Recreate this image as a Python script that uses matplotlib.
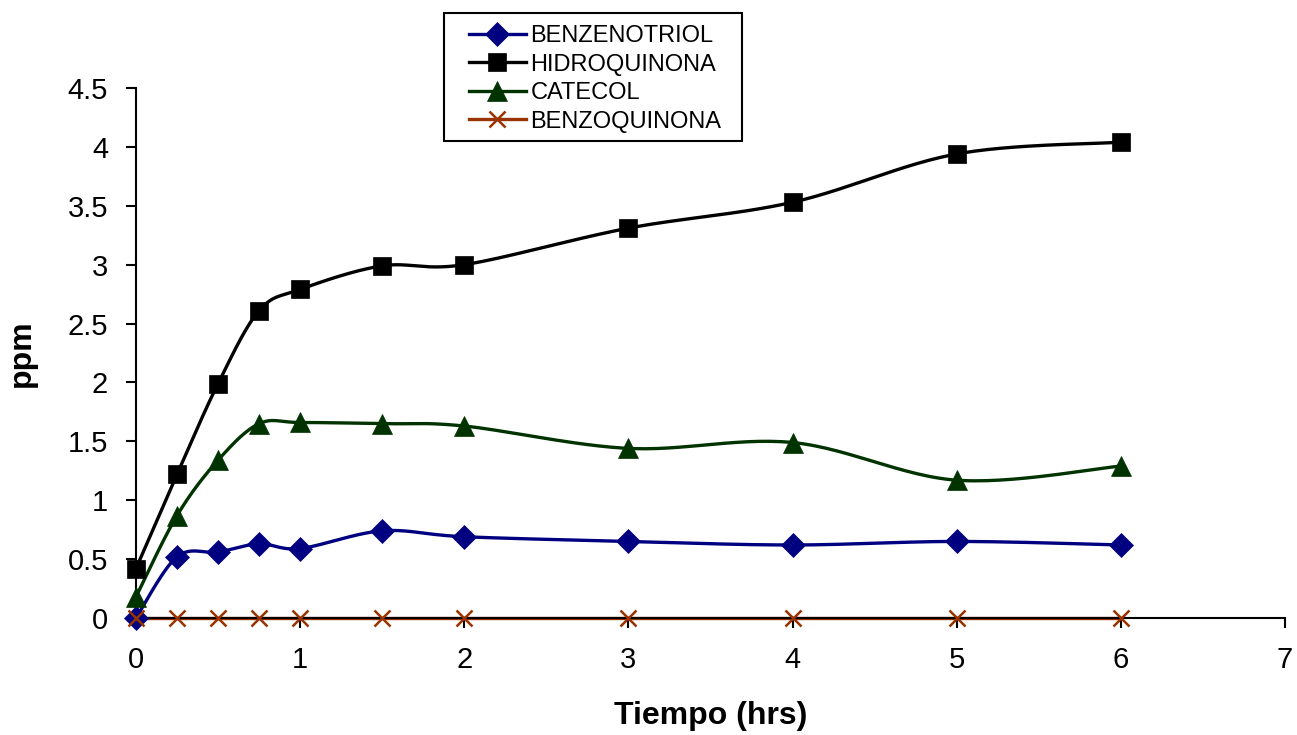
import numpy as np
import matplotlib
matplotlib.use("Agg")
import matplotlib.pyplot as plt
from matplotlib.patches import Rectangle

plt.rcParams['font.family'] = ['Liberation Sans', 'DejaVu Sans']

# sampling times (hrs)
tiempo = [0, 0.25, 0.5, 0.75, 1, 1.5, 2, 3, 4, 5, 6]

benzenotriol = [0.0, 0.52, 0.56, 0.63, 0.59, 0.74, 0.69, 0.65, 0.62, 0.65, 0.62]
hidroquinona = [0.42, 1.22, 1.99, 2.61, 2.79, 2.99, 3.00, 3.31, 3.53, 3.94, 4.04]
catecol = [0.18, 0.87, 1.34, 1.65, 1.66, 1.65, 1.63, 1.44, 1.49, 1.17, 1.29]
benzoquinona = [0, 0, 0, 0, 0, 0, 0, 0, 0, 0, 0]

series = [
    ("BENZENOTRIOL", benzenotriol, "#000080", "D", 12),
    ("HIDROQUINONA", hidroquinona, "#000000", "s", 13),
    ("CATECOL", catecol, "#003300", "^", 15),
    ("BENZOQUINONA", benzoquinona, "#993300", "x", 11),
]


def smooth(x, y, n=30):
    """Catmull-Rom style bezier smoothing, like spreadsheet smoothed lines"""
    x = np.asarray(x, float)
    y = np.asarray(y, float)
    px = np.concatenate([[x[0]], x, [x[-1]]])
    py = np.concatenate([[y[0]], y, [y[-1]]])
    xs, ys = [], []
    t = np.linspace(0, 1, n)
    for i in range(1, len(px) - 2):
        p0 = np.array([px[i], py[i]])
        p3 = np.array([px[i + 1], py[i + 1]])
        p1 = p0 + (p3 - np.array([px[i - 1], py[i - 1]])) / 6
        p2 = p3 - (np.array([px[i + 2], py[i + 2]]) - p0) / 6
        b = ((1 - t) ** 3)[:, None] * p0 + (3 * (1 - t) ** 2 * t)[:, None] * p1 \
            + (3 * (1 - t) * t ** 2)[:, None] * p2 + (t ** 3)[:, None] * p3
        xs.append(b[:, 0])
        ys.append(b[:, 1])
    return np.concatenate(xs), np.concatenate(ys)


W, H = 1297, 735
fig = plt.figure(figsize=(W / 100, H / 100), dpi=100)
ax = fig.add_axes([136 / W, 1 - 618 / H, (1285 - 136) / W, (618 - 88) / H])

handles = []
for name, vals, color, mk, ms in series:
    sx, sy = smooth(tiempo, vals)
    ax.plot(sx, sy, color=color, lw=2.4, solid_capstyle='round', clip_on=False)
    mew = 1.8 if mk == "x" else 0.5
    ax.plot(tiempo, vals, linestyle='none', marker=mk, ms=ms, color=color,
            mec=color, mew=mew, clip_on=False, zorder=3)
    h, = ax.plot([], [], color=color, lw=2.4, marker=mk, ms=ms,
                 mec=color, mew=mew)
    h.set_label(name)
    handles.append(h)

ax.set_xlim(0, 7)
ax.set_ylim(0, 4.5)
ax.set_xticks(range(0, 8))
ax.set_yticks(np.arange(0, 4.51, 0.5))
ax.set_yticklabels(["0", "0.5", "1", "1.5", "2", "2.5", "3", "3.5", "4", "4.5"])
ax.spines['top'].set_visible(False)
ax.spines['right'].set_visible(False)
for s in ('left', 'bottom'):
    ax.spines[s].set_linewidth(1.5)
ax.tick_params(direction='out', length=7, width=1.5, labelsize=21, pad=13)

ax.set_xlabel("Tiempo (hrs)", fontsize=23, fontweight='bold')
ax.set_ylabel("ppm", fontsize=23, fontweight='bold')
ax.xaxis.set_label_coords(0.5, -0.157)
ax.yaxis.set_label_coords(-0.086, 0.5)

# legend entries without frame, box drawn separately
leg = fig.legend(handles=handles, loc='upper left',
                 bbox_to_anchor=(450 / W, 1 - 6 / H),
                 frameon=False, fontsize=17, handlelength=2.4,
                 handletextpad=0.2, labelspacing=0.28, borderpad=0.3)
fig.patches.append(Rectangle((444 / W, 1 - 141 / H), (742 - 444) / W, 128 / H,
                             transform=fig.transFigure, fill=False,
                             edgecolor='black', lw=1.5))

fig.savefig("out.png", dpi=100)
